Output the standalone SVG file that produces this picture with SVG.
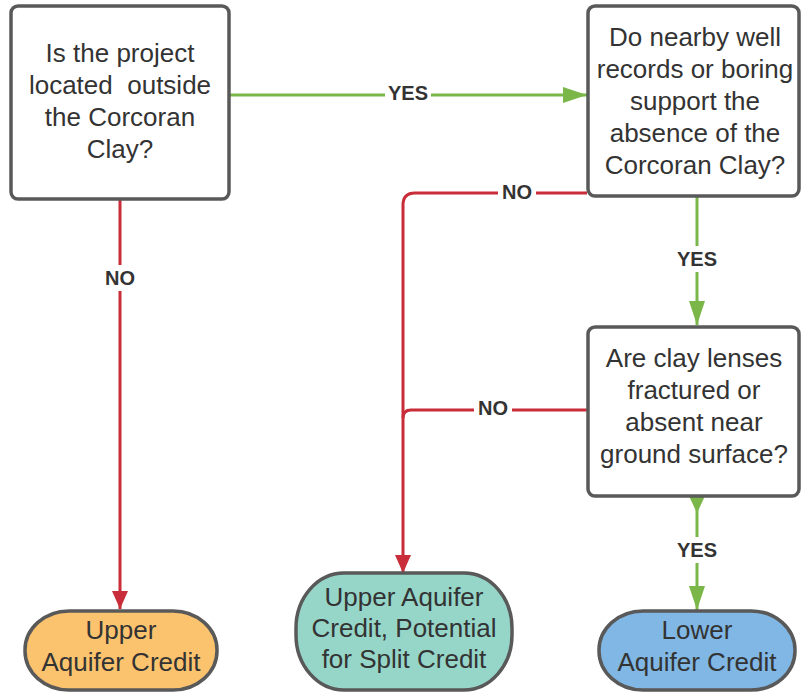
<svg xmlns="http://www.w3.org/2000/svg" width="801" height="692" viewBox="0 0 801 692">
<style>
.box{fill:#fff;stroke:#595959;stroke-width:3.5}
.t{font-family:"Liberation Sans",Arial,sans-serif;font-size:26px;fill:#333;text-anchor:middle}
.lbl{font-family:"Liberation Sans",Arial,sans-serif;font-size:20px;font-weight:bold;fill:#333;text-anchor:middle;dominant-baseline:central}
.red{fill:none;stroke:#c92d39;stroke-width:3}
.grn{fill:none;stroke:#7ab648;stroke-width:3}
</style>
<defs>
<marker id="ar" markerWidth="18" markerHeight="18" viewBox="0 0 18 18" refX="18" refY="9" orient="auto" markerUnits="userSpaceOnUse"><path d="M0,1 L18,9 L0,17 Z" fill="#c92d39"/></marker>
<marker id="ag" markerWidth="24" markerHeight="18" viewBox="0 0 24 18" refX="24" refY="9" orient="auto" markerUnits="userSpaceOnUse"><path d="M0,1 L24,9 L0,17 Z" fill="#7ab648"/></marker>
</defs>
<rect width="801" height="692" fill="#fff"/>
<g id="connectors">
<path class="grn" d="M229,95 H587" marker-end="url(#ag)"/>
<rect x="385" y="83" width="46" height="22" fill="#fff"/>
<text class="lbl" x="408" y="93">YES</text>
<path class="red" d="M120,199 V609" marker-end="url(#ar)"/>
<rect x="100" y="265" width="40" height="26" fill="#fff"/>
<text class="lbl" x="120" y="278">NO</text>
<path class="red" d="M587,193 H415 Q403,193 403,205 V573" marker-end="url(#ar)"/>
<rect x="498" y="182" width="38" height="22" fill="#fff"/>
<text class="lbl" x="517" y="192">NO</text>
<path class="red" d="M587,410 H411 Q403,410 403,418"/>
<rect x="474" y="398" width="38" height="22" fill="#fff"/>
<text class="lbl" x="493" y="408">NO</text>
<path class="grn" d="M697,197 V325" marker-end="url(#ag)"/>
<rect x="673" y="246" width="48" height="26" fill="#fff"/>
<text class="lbl" x="697" y="259">YES</text>
<polygon points="689,496 705,496 697,513" fill="#7ab648"/>
<path class="grn" d="M697,496 V610" marker-end="url(#ag)"/>
<rect x="673" y="537" width="48" height="26" fill="#fff"/>
<text class="lbl" x="697" y="550">YES</text>
</g>
<g id="q1">
<rect class="box" x="11" y="6" width="218" height="193" rx="7"/>
<text class="t" x="120" y="62">Is the project</text>
<text class="t" x="120" y="94" style="white-space:pre">located  outside</text>
<text class="t" x="120" y="126">the Corcoran</text>
<text class="t" x="120" y="158">Clay?</text>
</g>
<g id="q2">
<rect class="box" x="588" y="6" width="211" height="190" rx="7"/>
<text class="t" x="695" y="46">Do nearby well</text>
<text class="t" x="695" y="78">records or boring</text>
<text class="t" x="695" y="110">support the</text>
<text class="t" x="695" y="142">absence of the</text>
<text class="t" x="695" y="174">Corcoran Clay?</text>
</g>
<g id="q3">
<rect class="box" x="588" y="327" width="211" height="169" rx="7"/>
<text class="t" x="694" y="367">Are clay lenses</text>
<text class="t" x="694" y="399">fractured or</text>
<text class="t" x="694" y="431">absent near</text>
<text class="t" x="694" y="463">ground surface?</text>
</g>
<g id="upper">
<rect x="25" y="611" width="192" height="79" rx="44" ry="39" fill="#fcc36f" stroke="#595959" stroke-width="3.5"/>
<text class="t" x="121" y="639">Upper</text>
<text class="t" x="121" y="671">Aquifer Credit</text>
</g>
<g id="split">
<rect x="296" y="573" width="216" height="117" rx="48" ry="55" fill="#96d6c9" stroke="#595959" stroke-width="3.5"/>
<text class="t" x="404" y="606">Upper Aquifer</text>
<text class="t" x="404" y="637">Credit, Potential</text>
<text class="t" x="404" y="668">for Split Credit</text>
</g>
<g id="lower">
<rect x="599" y="611" width="196" height="79" rx="44" ry="39" fill="#80b7e4" stroke="#595959" stroke-width="3.5"/>
<text class="t" x="697" y="639">Lower</text>
<text class="t" x="697" y="671">Aquifer Credit</text>
</g>
</svg>
